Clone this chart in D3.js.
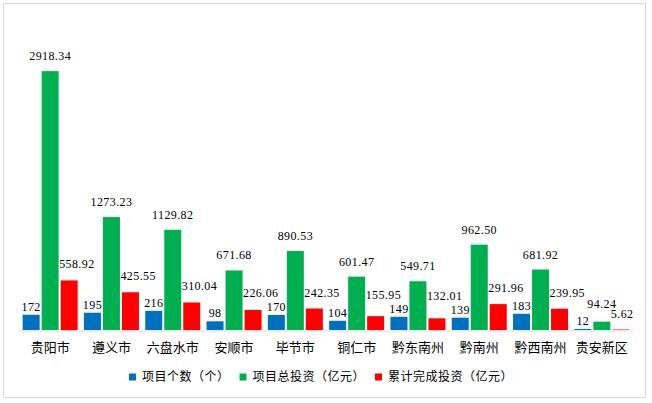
<!DOCTYPE html>
<html><head><meta charset="utf-8">
<script src="https://cdn.jsdelivr.net/npm/d3@7/dist/d3.min.js"></script>
<style>
html,body{margin:0;padding:0;background:#fff;}
svg{display:block;}
</style>
</head><body>
<svg id="chart" width="652" height="403"></svg>
<script>
const categories = ['贵阳市','遵义市','六盘水市','安顺市','毕节市','铜仁市','黔东南州','黔南州','黔西南州','贵安新区'];
const projectCount = [172,195,216,98,170,104,149,139,183,12];
const totalInvest = [2918.34,1273.23,1129.82,671.68,890.53,601.47,549.71,962.50,681.92,94.24];
const doneInvest = [558.92,425.55,310.04,226.06,242.35,155.95,132.01,291.96,239.95,5.62];
const seriesNames = ['项目个数（个）','项目总投资（亿元）','累计完成投资（亿元）'];
const seriesColors = ['#0070C0','#00B050','#FF0000'];

const svg = d3.select('#chart');
svg.append('rect').attr('x',3.5).attr('y',3.5).attr('width',642).attr('height',394)
  .attr('fill','#fff').attr('stroke','#d9d9d9').attr('stroke-width',1);

const x0 = d3.scaleBand().domain(categories).range([19.5,632.5]).padding(0);
const y = d3.scaleLinear().domain([0,3500]).range([330,19.55]);
const barW = 17, gap = 2;
const groupW = barW*3 + gap*2;
const x1 = d3.scaleBand().domain([0,1,2]).range([0,groupW]).paddingInner(gap/(barW+gap)).paddingOuter(0);

const series = [projectCount,totalInvest,doneInvest];
const fmt = [d=>String(d), d=>d.toFixed(2), d=>d.toFixed(2)];
const labelGap = [4,11,12];

// axis
const axis = d3.axisBottom(x0).tickSize(0).tickPadding(0);
const gx = svg.append('g').attr('transform','translate(0,330.5)').call(axis);
gx.select('.domain').attr('stroke','#d9d9d9').attr('stroke-width',1);
gx.selectAll('text').attr('y',17).attr('dy','0.35em')
  .attr('font-family','"Noto Sans CJK SC"').attr('font-size',13).attr('fill','#000');

const groups = svg.append('g').selectAll('g').data(categories).join('g')
  .attr('transform',d=>`translate(${x0(d)+(x0.bandwidth()-groupW)/2},0)`);

series.forEach((vals,si)=>{
  groups.append('rect')
    .attr('x',x1(si)).attr('width',x1.bandwidth())
    .attr('y',(d,i)=>y(vals[i])).attr('height',(d,i)=>y(0)-y(vals[i]))
    .attr('fill',seriesColors[si]);
});

// label baselines with simple collision avoidance
function labelY(si,i){
  let b = y(series[si][i]) - labelGap[si];
  if(si===2 && i+1<categories.length){
    const nb = y(projectCount[i+1]) - labelGap[0];
    if(Math.abs(nb-b) < 14) b = nb - 14;
  }
  if(si===1){
    const rb = labelY(2,i);
    if(rb - b < 10) b = rb - 10;
  }
  return b;
}
series.forEach((vals,si)=>{
  groups.append('text')
    .attr('x',si===2 ? x1(si)-1.5 : x1(si)+x1.bandwidth()/2)
    .attr('y',(d,i)=>labelY(si,i))
    .attr('text-anchor',si===2?'start':'middle')
    .attr('font-family','"Liberation Serif", serif').attr('font-size',12)
    .attr('letter-spacing',0.4)
    .attr('fill','#000')
    .text((d,i)=>fmt[si](vals[i]));
});

// legend
const lg = svg.append('g').attr('transform','translate(129,377)');
let cx = 0;
seriesNames.forEach((n,i)=>{
  const g = lg.append('g');
  g.append('rect').attr('x',0).attr('y',-3.5).attr('width',7).attr('height',7).attr('fill',seriesColors[i]);
  const t = g.append('text').attr('x',13).attr('dy','0.35em')
    .attr('font-family','"Noto Sans CJK SC"').attr('font-size',12).attr('letter-spacing',0.5)
    .attr('fill','#000').text(n);
  const w = 13 + t.node().getComputedTextLength();
  g.attr('transform',`translate(${cx},0)`);
  cx += w + 10;
});
</script>
</body></html>
